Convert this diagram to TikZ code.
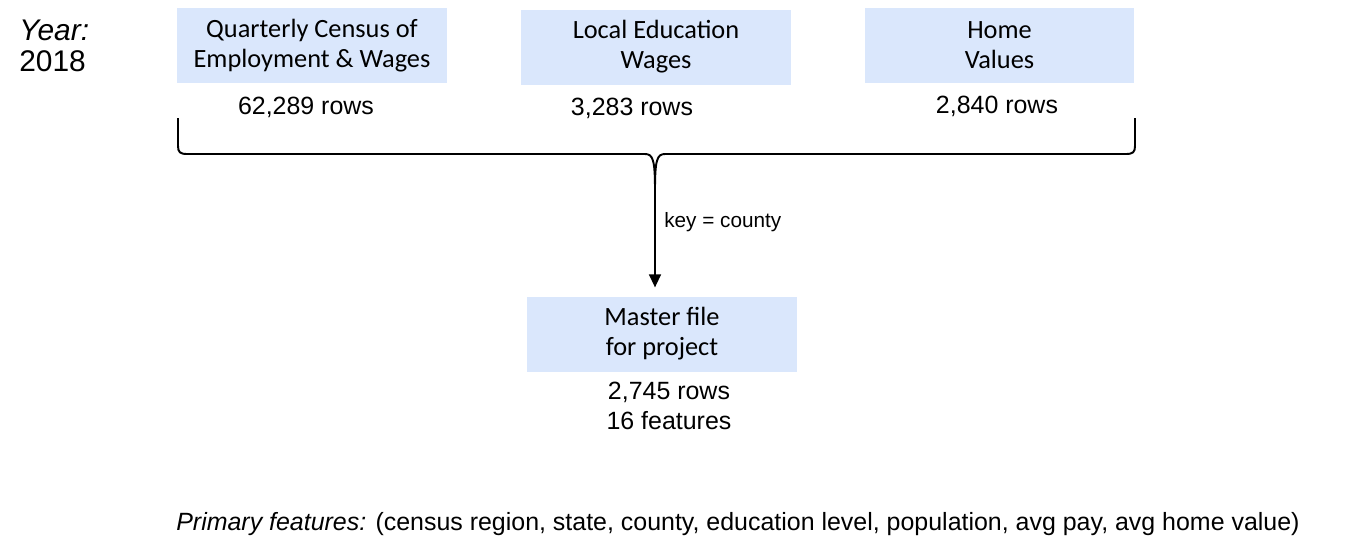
\documentclass[tikz,border=0pt]{standalone}
\usepackage{fontspec}
\setmainfont{Liberation Sans}
\newfontfamily\calibri{Carlito}
\usetikzlibrary{arrows.meta}
\definecolor{boxblue}{RGB}{218,231,252}

\begin{document}
\begin{tikzpicture}[x=0.02cm, y=-0.02cm,
    srcbox/.style={fill=boxblue, minimum width=5.4cm, minimum height=1.5cm,
        align=center, inner sep=0pt, font=\calibri\fontsize{15}{17}\selectfont},
    rowcount/.style={align=center, inner sep=0pt, font=\fontsize{14.2}{17}\selectfont}]
    \useasboundingbox (0,0) rectangle (1347,556);

    % Year label
    \node[anchor=west, align=left, inner sep=0pt, font=\fontsize{17}{17.5}\selectfont]
        (year) at (19,46) {\textit{Year:}\\2018};

    % Source tables
    \node[srcbox] (qcew) at (312,45.5) {Quarterly Census of\\Employment \& Wages};
    \node[srcbox] (edu) at (656,47) {Local Education\\Wages};
    \node[srcbox] (home) at (999.5,45.5) {Home\\Values};

    % Row counts
    \node[rowcount] (qcewrows) at (306,107) {62,289 rows};
    \node[rowcount] (edurows) at (632,108) {3,283 rows};
    \node[rowcount] (homerows) at (997,106) {2,840 rows};

    % Brace joining the tables
    \coordinate (tip) at (655,190);
    \draw[line width=1.1pt] (178,118) -- (178,146) .. controls (178,152) and (180,154) .. (187,154)
        -- (645,154) .. controls (653,154) and (655,160) .. (tip);
    \draw[line width=1.1pt] (1135,118) -- (1135,146) .. controls (1135,152) and (1133,154) .. (1126,154)
        -- (665,154) .. controls (657,154) and (655,160) .. (tip);

    % Master file
    \node[srcbox] (master) at (662,334) {Master file\\for project};
    \draw[line width=0.9pt, -{Triangle[width=6.8pt, length=7.4pt]}, shorten >=5pt]
        (tip) -- (master.north -| tip);
    \node[anchor=west, inner sep=0pt, font=\fontsize{11.8}{13}\selectfont]
        (key) at (664,222) {key = county};
    \node[rowcount] (masterrows) at (669,406) {2,745 rows\\16 features};

    % Feature list
    \node[anchor=west, inner sep=0pt, font=\fontsize{14.2}{16}\selectfont] (features) at (176,524)
        {\textit{Primary features:} (census region, state, county, education level, population, avg pay, avg home value)};
\end{tikzpicture}
\end{document}
